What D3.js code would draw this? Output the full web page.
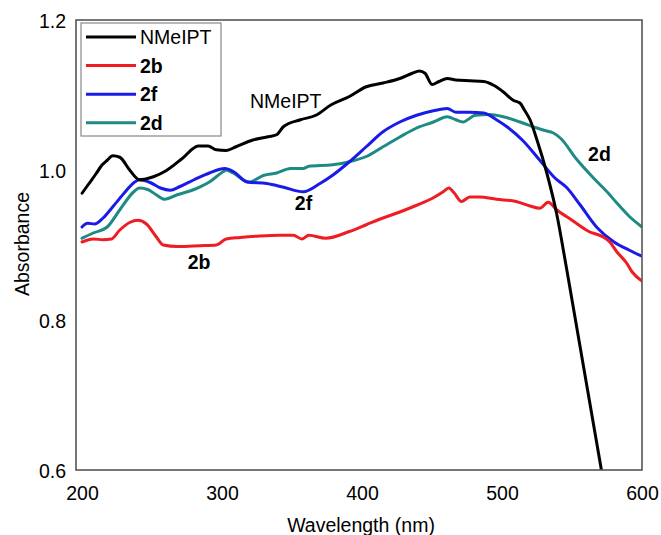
<!DOCTYPE html>
<html>
<head>
<meta charset="utf-8">
<script src="https://cdn.jsdelivr.net/npm/d3@7"></script>
<style>
  body { margin: 0; background: #fff; }
  svg text { font-family: "Liberation Sans", Arial, Helvetica, sans-serif; fill: #000; }
  .frame { fill: none; stroke: #555; stroke-width: 1.6; }
  .series { fill: none; stroke-width: 3; stroke-linejoin: round; stroke-linecap: round; }
</style>
</head>
<body>
<div id="chart"></div>
<script>
// ---- data (wavelength nm, absorbance) ----
const nmeipt = [
  [200,0.969],[205,0.982],[210,0.995],[214,1.006],[218,1.013],[222,1.019],[227,1.017],
  [234,1.000],[241,0.987],[251,0.991],[260,0.999],[272,1.016],[283,1.032],[290,1.032],
  [296,1.027],[303,1.026],[310,1.031],[322,1.040],[332,1.044],[339,1.047],[344,1.058],
  [356,1.067],[367,1.073],[378,1.087],[391,1.098],[403,1.111],[415,1.116],[427,1.122],
  [436,1.129],[441,1.132],[445,1.129],[450,1.114],[455,1.118],[461,1.122],[467,1.120],
  [477,1.119],[487,1.118],[494,1.113],[501,1.104],[508,1.093],[513,1.089],[516,1.080],
  [520,1.067],[525,1.040],[532,0.996],[539,0.942],[546,0.870],[571,0.600]
];
const s2b = [
  [200,0.904],[208,0.908],[215,0.907],[221,0.908],[227,0.920],[234,0.930],[240,0.933],
  [246,0.928],[253,0.911],[258,0.900],[268,0.898],[284,0.899],[296,0.900],[303,0.908],
  [313,0.910],[327,0.912],[341,0.913],[351,0.913],[357,0.908],[362,0.913],[374,0.909],
  [391,0.918],[403,0.927],[415,0.936],[427,0.944],[439,0.953],[450,0.962],[458,0.971],
  [462,0.976],[466,0.969],[471,0.958],[477,0.964],[484,0.964],[496,0.961],[510,0.958],
  [520,0.952],[527,0.949],[533,0.957],[539,0.947],[550,0.933],[562,0.918],[572,0.911],
  [577,0.904],[582,0.891],[589,0.876],[593,0.864],[600,0.852]
];
const s2f = [
  [200,0.924],[204,0.929],[209,0.928],[215,0.936],[222,0.951],[230,0.969],[237,0.983],
  [241,0.987],[249,0.983],[256,0.976],[263,0.973],[270,0.978],[280,0.987],[291,0.996],
  [302,1.002],[308,0.998],[318,0.984],[332,0.982],[344,0.977],[358,0.971],[370,0.982],
  [379,0.993],[391,1.011],[403,1.031],[415,1.051],[427,1.064],[439,1.073],[451,1.079],
  [461,1.082],[467,1.077],[477,1.077],[487,1.076],[496,1.067],[504,1.057],[515,1.039],
  [527,1.013],[538,0.989],[546,0.977],[556,0.953],[568,0.923],[580,0.904],[591,0.893],
  [600,0.885]
];
const s2d = [
  [200,0.909],[208,0.916],[218,0.924],[227,0.947],[237,0.971],[241,0.976],[247,0.974],
  [253,0.967],[259,0.961],[268,0.967],[280,0.974],[291,0.984],[301,0.998],[303,1.000],
  [308,0.996],[319,0.984],[330,0.993],[339,0.996],[349,1.002],[358,1.002],[362,1.005],
  [379,1.007],[391,1.011],[403,1.018],[415,1.031],[427,1.044],[439,1.056],[451,1.064],
  [461,1.071],[467,1.067],[472,1.064],[481,1.073],[491,1.074],[501,1.071],[513,1.064],
  [525,1.056],[532,1.052],[536,1.050],[542,1.042],[553,1.015],[565,0.990],[576,0.969],
  [582,0.956],[591,0.938],[600,0.924]
];

const seriesNames  = ['NMeIPT', '2b', '2f', '2d'];
const seriesData   = [nmeipt, s2b, s2f, s2d];
const seriesColors = ['#000000', '#ee1d23', '#1b1be8', '#1e8a84'];
const seriesBold   = [false, true, true, true];

const xTicks = [200, 300, 400, 500, 600];
const yTicks = [0.6, 0.8, 1.0, 1.2];

// in-plot labels (wavelength, absorbance of text baseline start)
const annotations = [
  { text: 'NMeIPT', x: 320,   y: 1.083, bold: false },
  { text: '2f',     x: 352,   y: 0.947, bold: true },
  { text: '2b',     x: 275.5, y: 0.868, bold: true },
  { text: '2d',     x: 561.5, y: 1.012, bold: true }
];

// ---- layout ----
const W = 661, H = 535;
const L = 76, R = 642, T = 20, B = 470;
const FS = 19.5;

const svg = d3.select('#chart').append('svg')
  .attr('width', W).attr('height', H);

const x = d3.scaleLinear().domain([195.7, 600]).range([L, R]);
const y = d3.scaleLinear().domain([0.6, 1.2]).range([B, T]);

svg.append('clipPath').attr('id', 'plotclip')
  .append('rect').attr('x', L).attr('y', T).attr('width', R - L).attr('height', B - T);

// axes (labels only, no tick marks)
const xAxis = svg.append('g')
  .attr('transform', `translate(0,${B})`)
  .call(d3.axisBottom(x).tickValues(xTicks).tickSize(0).tickPadding(20).tickFormat(d3.format('d')));
const yAxis = svg.append('g')
  .attr('transform', `translate(${L},0)`)
  .call(d3.axisLeft(y).tickValues(yTicks).tickSize(0).tickPadding(10).tickFormat(d3.format('.1f')));
[xAxis, yAxis].forEach(a => {
  a.select('.domain').remove();
  a.selectAll('text').attr('font-size', FS).attr('font-family', null).style('fill', '#000');
});
yAxis.selectAll('text').attr('dy', '0.36em');
xAxis.selectAll('text').attr('dy', '0.5em');

// series
const line = d3.line().x(d => x(d[0])).y(d => y(d[1])).curve(d3.curveMonotoneX);
const plot = svg.append('g').attr('clip-path', 'url(#plotclip)');
// draw order: teal, blue, red, black on top
[3, 2, 1, 0].forEach(i => {
  plot.append('path')
    .datum(seriesData[i])
    .attr('class', 'series')
    .attr('stroke', seriesColors[i])
    .attr('d', line);
});

// frame
svg.append('rect').attr('class', 'frame')
  .attr('x', L).attr('y', T).attr('width', R - L).attr('height', B - T);

// legend
const lg = svg.append('g');
lg.append('rect')
  .attr('x', 81).attr('y', 23).attr('width', 140).attr('height', 113)
  .attr('fill', '#fff').attr('stroke', '#888').attr('stroke-width', 1.2);
seriesNames.forEach((name, i) => {
  const ly = 37 + i * 28.6;
  lg.append('line')
    .attr('x1', 86).attr('x2', 136).attr('y1', ly).attr('y2', ly)
    .attr('stroke', seriesColors[i]).attr('stroke-width', 3);
  lg.append('text')
    .attr('x', 140).attr('y', ly).attr('dy', '0.36em')
    .attr('font-size', FS)
    .attr('font-weight', seriesBold[i] ? 'bold' : 'normal')
    .text(name);
});

// annotations
annotations.forEach(a => {
  svg.append('text')
    .attr('x', x(a.x)).attr('y', y(a.y))
    .attr('font-size', FS)
    .attr('font-weight', a.bold ? 'bold' : 'normal')
    .text(a.text);
});

// axis titles
svg.append('text')
  .attr('x', (L + R) / 2 + 2).attr('y', 532)
  .attr('text-anchor', 'middle').attr('font-size', FS)
  .text('Wavelength (nm)');
svg.append('text')
  .attr('transform', `translate(29,244) rotate(-90)`)
  .attr('text-anchor', 'middle').attr('font-size', FS)
  .text('Absorbance');
</script>
</body>
</html>
